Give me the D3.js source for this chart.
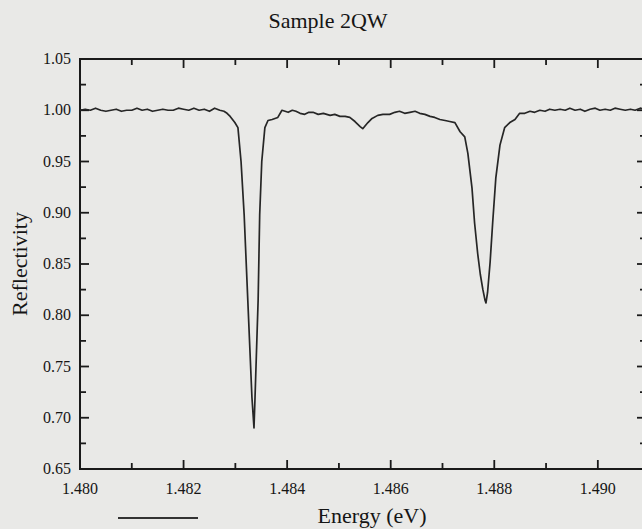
<!DOCTYPE html>
<html>
<head>
<meta charset="utf-8">
<script src="https://cdn.jsdelivr.net/npm/d3@7"></script>
<style>
  body { margin: 0; background: #e9e9e7; }
  svg { display: block; }
  text { font-family: "Liberation Serif", "Times New Roman", serif; fill: #151515; }
</style>
</head>
<body>
<svg id="chart" width="642" height="529"></svg>
<script>
const titleText = 'Sample 2QW';
const xLabel = 'Energy (eV)';
const yLabel = 'Reflectivity';

const xTicks = [1.480, 1.482, 1.484, 1.486, 1.488, 1.490];
const yTicks = [0.65, 0.70, 0.75, 0.80, 0.85, 0.90, 0.95, 1.00, 1.05];

// energy (eV)
const energy = [
  1.4800, 1.4801, 1.4802, 1.4803, 1.4804, 1.4805, 1.4806, 1.4807, 1.4808, 1.4809,
  1.4810, 1.4811, 1.4812, 1.4813, 1.4814, 1.4815, 1.4816, 1.4817, 1.4818, 1.4819,
  1.4820, 1.4821, 1.4822, 1.4823, 1.4824, 1.4825, 1.4826, 1.4827, 1.48278, 1.48284,
  1.48290, 1.48299, 1.48305, 1.48311, 1.48317, 1.48324, 1.48332, 1.48336, 1.48338, 1.48344,
  1.48347, 1.48351, 1.48357, 1.48363, 1.48371, 1.48382, 1.48390, 1.48402, 1.48410, 1.48417,
  1.48425, 1.48434, 1.48442, 1.48450, 1.48460, 1.48470, 1.48483, 1.48492, 1.48502, 1.48512,
  1.48521, 1.48531, 1.48541, 1.48546, 1.48556, 1.48564, 1.48575, 1.48585, 1.48598, 1.48608,
  1.48617, 1.48627, 1.48637, 1.48647, 1.48656, 1.48666, 1.48676, 1.48685, 1.48695, 1.48705,
  1.48714, 1.48724, 1.48734, 1.48743, 1.48749, 1.48757, 1.48762, 1.48768, 1.48773, 1.48778,
  1.48782, 1.48784, 1.48787, 1.48792, 1.48797, 1.48803, 1.48811, 1.48820, 1.48830, 1.48840,
  1.48849, 1.48859, 1.48869, 1.48878, 1.48888, 1.48898, 1.48907, 1.48917, 1.48927, 1.48937,
  1.48946, 1.48956, 1.48966, 1.48975, 1.48985, 1.48995, 1.49004, 1.49014, 1.49024, 1.49033,
  1.49043, 1.49053, 1.49063, 1.49072, 1.49082, 1.49093
];

const reflectivity = [
  1.000, 1.001, 1.000, 1.002, 1.000, 0.999, 1.000, 1.001, 0.999, 1.000,
  1.000, 1.002, 1.000, 1.001, 0.999, 1.000, 1.001, 1.000, 1.000, 1.002,
  1.001, 1.000, 1.002, 1.000, 1.001, 0.999, 1.002, 1.000, 0.999, 0.997,
  0.994, 0.988, 0.983, 0.950, 0.898, 0.815, 0.720, 0.690, 0.720, 0.815,
  0.898, 0.950, 0.983, 0.990, 0.991, 0.993, 1.000, 0.998, 1.000, 0.999,
  0.997, 0.996, 0.998, 0.998, 0.996, 0.997, 0.995, 0.996, 0.994, 0.994,
  0.993, 0.989, 0.984, 0.982, 0.988, 0.992, 0.995, 0.996, 0.996, 0.998,
  0.999, 0.997, 0.998, 0.999, 0.997, 0.996, 0.994, 0.993, 0.991, 0.990,
  0.989, 0.988, 0.979, 0.974, 0.958, 0.924, 0.890, 0.860, 0.840, 0.825,
  0.815, 0.812, 0.822, 0.852, 0.891, 0.934, 0.966, 0.983, 0.988, 0.991,
  0.997, 0.997, 0.999, 0.998, 1.000, 0.999, 1.001, 1.000, 1.001, 1.000,
  1.002, 1.000, 1.001, 0.999, 1.001, 1.002, 1.000, 1.001, 1.000, 1.002,
  1.001, 1.000, 1.001, 1.000, 1.002, 1.001
];

const svg = d3.select('#chart');

const margin = { left: 80, top: 59, right: 646, bottom: 469 };

const x = d3.scaleLinear()
  .domain([1.480, 1.49093])
  .range([margin.left, margin.right]);

const y = d3.scaleLinear()
  .domain([0.65, 1.05])
  .range([margin.bottom, margin.top]);

const majorLen = 9;
const minorLen = 6;

// minor ticks halfway between the labelled ones
const xMinor = d3.range(0, 11).map((i) => 1.481 + i * 0.002).filter((v) => v < 1.4909);
const yMinor = d3.range(0, 8).map((i) => 0.675 + i * 0.05);

const frame = svg.append('g')
  .attr('stroke', '#1a1a1a')
  .attr('fill', 'none');

frame.append('rect')
  .attr('x', margin.left)
  .attr('y', margin.top)
  .attr('width', margin.right - margin.left)
  .attr('height', margin.bottom - margin.top)
  .attr('stroke-width', 2);

function drawTicks(values, len, horizontal) {
  values.forEach((v) => {
    if (horizontal) {
      let px = x(v);
      frame.append('line')
        .attr('x1', px).attr('x2', px)
        .attr('y1', margin.bottom).attr('y2', margin.bottom - len)
        .attr('stroke-width', 1.8);
      frame.append('line')
        .attr('x1', px).attr('x2', px)
        .attr('y1', margin.top).attr('y2', margin.top + len)
        .attr('stroke-width', 1.8);
    } else {
      let py = y(v);
      frame.append('line')
        .attr('x1', margin.left).attr('x2', margin.left + len)
        .attr('y1', py).attr('y2', py)
        .attr('stroke-width', 1.8);
      frame.append('line')
        .attr('x1', margin.right).attr('x2', margin.right - len)
        .attr('y1', py).attr('y2', py)
        .attr('stroke-width', 1.8);
    }
  });
}

drawTicks(xTicks, majorLen, true);
drawTicks(xMinor, minorLen, true);
drawTicks(yTicks, majorLen, false);
drawTicks(yMinor, minorLen, false);

svg.append('g')
  .selectAll('text')
  .data(xTicks)
  .join('text')
    .attr('x', (d) => x(d))
    .attr('y', 494)
    .attr('text-anchor', 'middle')
    .attr('font-size', 16)
    .text((d) => d.toFixed(3));

svg.append('g')
  .selectAll('text')
  .data(yTicks)
  .join('text')
    .attr('x', 71)
    .attr('y', (d) => y(d) + 5)
    .attr('text-anchor', 'end')
    .attr('font-size', 16)
    .text((d) => d.toFixed(2));

const points = energy.map((e, i) => [e, reflectivity[i]]);

const line = d3.line()
  .x((d) => x(d[0]))
  .y((d) => y(d[1]));

svg.append('path')
  .datum(points)
  .attr('fill', 'none')
  .attr('stroke', '#262626')
  .attr('stroke-width', 1.7)
  .attr('stroke-linejoin', 'round')
  .attr('d', line);

svg.append('text')
  .attr('x', 328)
  .attr('y', 28)
  .attr('text-anchor', 'middle')
  .attr('font-size', 22)
  .text(titleText);

svg.append('text')
  .attr('x', 372)
  .attr('y', 523)
  .attr('text-anchor', 'middle')
  .attr('font-size', 22)
  .text(xLabel);

svg.append('text')
  .attr('transform', 'translate(27,264) rotate(-90)')
  .attr('text-anchor', 'middle')
  .attr('font-size', 22)
  .text(yLabel);

// short stroke under the axis, bottom left
svg.append('line')
  .attr('x1', 118).attr('x2', 198)
  .attr('y1', 518).attr('y2', 518)
  .attr('stroke', '#333')
  .attr('stroke-width', 2);
</script>
</body>
</html>
